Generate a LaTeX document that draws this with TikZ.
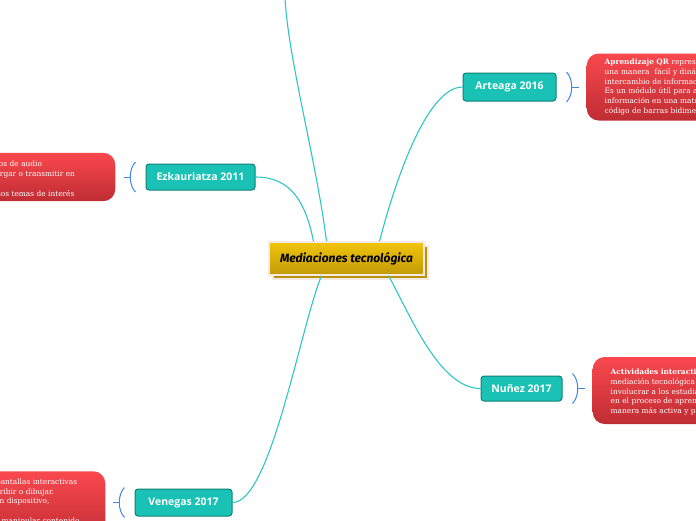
\documentclass[tikz,border=0pt]{standalone}
\usepackage{fontspec}
\setmainfont{DejaVu Serif}
\newfontfamily\autorfont{Open Sans}
\newfontfamily\titulofont{Fira Sans}
\usepackage{xcolor}
\usetikzlibrary{calc,shadows,positioning}

\definecolor{tealnodo}{HTML}{19C2B4}
\definecolor{tealborde}{HTML}{0E8077}
\definecolor{ramacolor}{HTML}{2EC6C6}
\definecolor{corchetecolor}{HTML}{3F86E6}
\definecolor{rojoarriba}{HTML}{F9484E}
\definecolor{rojoabajo}{HTML}{BE2D33}
\definecolor{oroarriba}{HTML}{F2C50C}
\definecolor{oroabajo}{HTML}{C19A07}
\definecolor{orosombra}{HTML}{B8930A}
\definecolor{bordeclaro}{HTML}{F5E9E6}

\tikzset{
  autor/.style={draw=tealborde,fill=tealnodo,rounded corners=3pt,line width=1pt,
    text=white,font=\autorfont\bfseries\fontsize{10.5}{12}\selectfont,
    minimum height=26pt,inner xsep=8pt},
  nota/.style={top color=rojoarriba,bottom color=rojoabajo,rounded corners=12pt,
    text=white,font=\fontsize{7.4}{9.8}\selectfont,align=left,inner xsep=18pt},
  rama/.style={draw=ramacolor,line width=1.1pt},
  corchete/.style={draw=corchetecolor,line width=1pt},
}

\begin{document}
\begin{tikzpicture}[x=1pt,y=-1pt]
  \useasboundingbox (0,0) rectangle (696,520);
  \clip (0,0) rectangle (696,520);

  % idea central
  \node[top color=oroarriba,bottom color=oroabajo,draw=bordeclaro,line width=1.2pt,
    minimum width=155pt,minimum height=33pt,
    font=\titulofont\bfseries\itshape\fontsize{12}{14}\selectfont,
    general shadow={fill=orosombra,draw=bordeclaro,shadow xshift=4pt,shadow yshift=-4pt}]
    (mt) at (346.5,258.5) {Mediaciones tecnológica};

  % autores
  \node[autor,minimum width=109pt] (ezk) at (200.5,177) {Ezkauriatza 2011};
  \node[autor,minimum width=93pt,minimum height=28pt] (art) at (509.5,87) {Arteaga 2016};
  \node[autor,minimum width=81pt,minimum height=25pt] (nun) at (521.5,388.5) {Nuñez 2017};
  \node[autor,minimum width=97pt,minimum height=27pt] (ven) at (183.5,502.5) {Venegas 2017};

  % notas
  \node[nota,right=30pt of art,minimum height=67pt,text width=175pt] (artNota)
    {\textbf{Aprendizaje QR} representa\\
     una manera \ fácil y dinámica de\\
     intercambio de información.\\
     Es un módulo útil para almacenar\\
     información en una matriz de puntos o\\
     código de barras bidimensional.};
  \node[nota,right=30pt of nun,minimum height=67pt,text width=175pt,
    text height=9pt,yshift=-2pt] (nunNota)
    {\textbf{Actividades interactivas:} son una\\
     mediación tecnológica que permite\\
     involucrar a los estudiantes\\
     en el proceso de aprendizaje de una\\
     manera más activa y participativa.};
  \node[nota,left=30pt of ezk,minimum height=48pt,text width=176pt,text height=10pt,
    font=\fontsize{7.4}{10}\selectfont] (ezkNota)
    {\textbf{Podcast:} son archivos de audio\\
     que se pueden descargar o transmitir en\\
     línea,\\
     y que abordan diversos temas de interés};
  \node[nota,left=29pt of ven,inner ysep=7.5pt,text width=143pt,yshift=-4.4pt] (venNota)
    {\textbf{Tablets:} son pantallas interactivas\\
     y permiten escribir o dibujar.\\
     Se conecta a un dispositivo,\\
     externo\\
     que le permite manipular contenido\\
     y compartirlo.};

  % ramas
  \coordinate (arriba) at (285,-2);
  \draw[rama] ($(mt.north)+(-20,0)$) .. controls +(-10,-80) and +(3,60) .. (arriba);
  \draw[rama] (ezk.east) .. controls +(35,0) and +(-8,-40) .. ($(mt.north)+(-33,0)$);
  \draw[rama] (art.west) .. controls +(-38,0) and +(12,-47) .. ($(mt.north)+(33,0)$);
  \draw[rama] ($(mt.south)+(42,0)$) .. controls +(22,40) and +(-41,0) .. (nun.west);
  \draw[rama] ($(mt.south)+(-25,0)$) .. controls +(-22,55) and +(38,0) .. (ven.east);

  % corchetes
  \foreach \n/\a/\s in {ezk/west/-1,ven/west/-1,art/east/1,nun/east/1}{
    \draw[corchete] ($(\n.\a)+(10*\s,-15)$) .. controls +(7*\s,7) and +(7*\s,-7) .. ($(\n.\a)+(10*\s,15)$);
    \draw[corchete] ($(\n.\a)+(15*\s,0)$) -- ($(\n.\a)+(22*\s,0)$);
  }
\end{tikzpicture}
\end{document}
